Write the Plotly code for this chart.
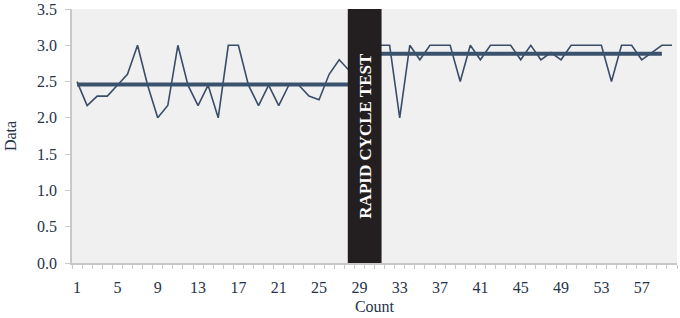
import plotly.graph_objects as go

counts = list(range(1, 61))
data_values = [
    2.5, 2.17, 2.3, 2.3, 2.45, 2.6, 3.0, 2.45, 2.0, 2.17,
    3.0, 2.45, 2.17, 2.45, 2.0, 3.0, 3.0, 2.45, 2.17, 2.45,
    2.17, 2.45, 2.45, 2.3, 2.25, 2.6, 2.8, 2.65, 2.7, 3.0,
    3.0, 3.0, 2.0, 3.0, 2.8, 3.0, 3.0, 3.0, 2.5, 3.0,
    2.8, 3.0, 3.0, 3.0, 2.8, 3.0, 2.8, 2.9, 2.8, 3.0,
    3.0, 3.0, 3.0, 2.5, 3.0, 3.0, 2.8, 2.9, 3.0, 3.0,
]
before_span = [1, 29]
before_mean = 2.46
after_span = [30, 59]
after_mean = 2.885
test_window = [27.85, 31.2]
test_label = "RAPID CYCLE TEST"
x_tick_labels = list(range(1, 60, 4))
y_tick_labels = [0.0, 0.5, 1.0, 1.5, 2.0, 2.5, 3.0, 3.5]

serif = "Liberation Serif, Times New Roman, serif"
text_color = "#26344a"

fig = go.Figure()
fig.add_trace(go.Scatter(x=counts, y=data_values, mode="lines",
                         line=dict(color="#3a4d68", width=1.6), showlegend=False))
fig.add_trace(go.Scatter(x=before_span, y=[before_mean] * 2, mode="lines",
                         line=dict(color="#3b526d", width=4), showlegend=False))
fig.add_trace(go.Scatter(x=after_span, y=[after_mean] * 2, mode="lines",
                         line=dict(color="#3b526d", width=4), showlegend=False))

fig.add_shape(type="rect", xref="x", yref="y", x0=test_window[0], x1=test_window[1],
              y0=0, y1=3.5, fillcolor="#231f20", line=dict(color="#231f20", width=0),
              layer="above")
fig.add_annotation(x=sum(test_window) / 2, y=1.75, xref="x", yref="y", text=test_label,
                   textangle=-90, showarrow=False,
                   font=dict(family=serif, size=17, color="white", weight="bold"))

fig.update_layout(
    width=680, height=318,
    margin=dict(l=72, r=3, t=9, b=55),
    paper_bgcolor="white", plot_bgcolor="#f0f0f0",
    font=dict(family=serif, color=text_color, size=16),
)
fig.update_xaxes(
    range=[0.5, 60.5], tickmode="array", tickvals=x_tick_labels,
    ticktext=[str(v) for v in x_tick_labels],
    ticks="outside", ticklen=0, showgrid=False, zeroline=False,
    showline=True, linecolor="#c8c8c8", linewidth=1.5,
    minor=dict(tickmode="linear", tick0=0.5, dtick=1, ticks="outside", ticklen=4,
               tickcolor="#c8c8c8", showgrid=False),
    ticklabelstandoff=9, automargin=False, ticklabeloverflow="allow",
    title=dict(text="Count", font=dict(size=16), standoff=6),
)
fig.update_yaxes(
    range=[0, 3.5], tickmode="array", tickvals=y_tick_labels,
    ticktext=[f"{v:.1f}" for v in y_tick_labels],
    ticks="outside", ticklen=5, tickcolor="#c8c8c8", showgrid=False, zeroline=False,
    showline=True, linecolor="#c8c8c8", linewidth=1.5,
    ticklabelstandoff=5, automargin=False, ticklabeloverflow="allow",
    title=dict(text="Data", font=dict(size=16), standoff=16),
)

fig.write_html("out.html")
